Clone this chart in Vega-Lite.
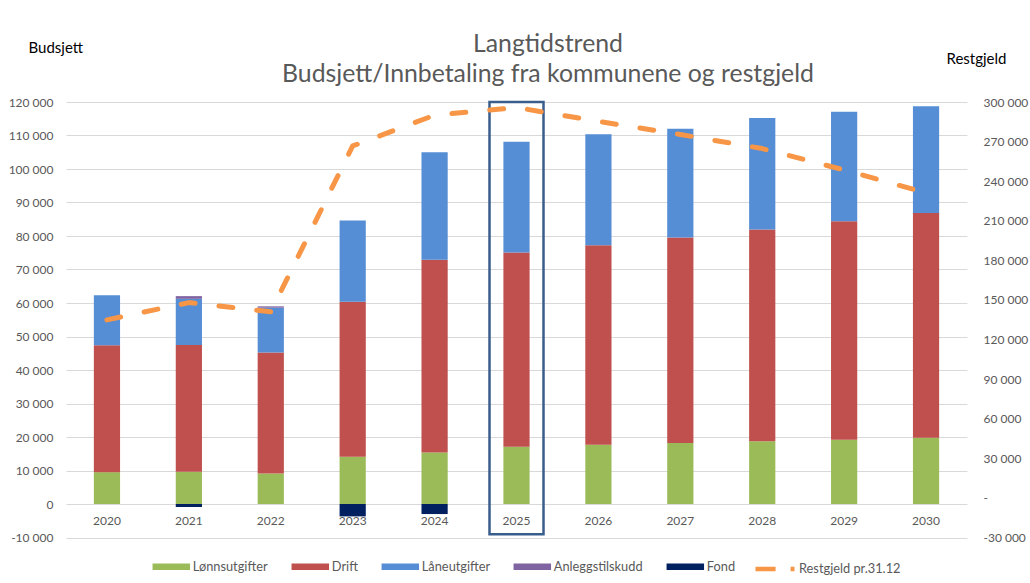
{
  "$schema": "https://vega.github.io/schema/vega-lite/v6.json",
  "width": 901,
  "height": 435.5,
  "autosize": "none",
  "padding": {"left": 66, "top": 102, "right": 63, "bottom": 45.5},
  "background": "white",
  "config": {
    "locale": {"number": {"decimal": ",", "thousands": " ", "grouping": [3], "currency": ["", ""], "minus": "-"}},
    "font": "Lato",
    "view": {"stroke": null},
    "axis": {"labelFont": "Lato", "labelFontSize": 12, "labelColor": "#595959", "domain": false, "ticks": false, "gridColor": "#d9d9d9", "gridWidth": 1, "labelOverlap": false}
  },
  "title": {
    "text": ["Langtidstrend", "Budsjett/Innbetaling fra kommunene og restgjeld"],
    "fontSize": 24.8, "fontWeight": "normal", "color": "#595959", "font": "Lato",
    "anchor": "middle", "frame": "group", "dx": 31.5, "offset": 20, "dy": 67, "lineHeight": 30
  },
  "datasets": {
    "budsjett": [
      {"år": "2020", "post": "Lønnsutgifter", "verdi": 9500},
      {"år": "2020", "post": "Drift", "verdi": 37900},
      {"år": "2020", "post": "Låneutgifter", "verdi": 14900},
      {"år": "2021", "post": "Lønnsutgifter", "verdi": 9600},
      {"år": "2021", "post": "Drift", "verdi": 37850},
      {"år": "2021", "post": "Låneutgifter", "verdi": 13800},
      {"år": "2021", "post": "Anleggstilskudd", "verdi": 800},
      {"år": "2021", "post": "Fond", "verdi": -900},
      {"år": "2022", "post": "Lønnsutgifter", "verdi": 9100},
      {"år": "2022", "post": "Drift", "verdi": 36100},
      {"år": "2022", "post": "Låneutgifter", "verdi": 13400},
      {"år": "2022", "post": "Anleggstilskudd", "verdi": 400},
      {"år": "2023", "post": "Lønnsutgifter", "verdi": 14100},
      {"år": "2023", "post": "Drift", "verdi": 46300},
      {"år": "2023", "post": "Låneutgifter", "verdi": 24200},
      {"år": "2023", "post": "Fond", "verdi": -3700},
      {"år": "2024", "post": "Lønnsutgifter", "verdi": 15400},
      {"år": "2024", "post": "Drift", "verdi": 57500},
      {"år": "2024", "post": "Låneutgifter", "verdi": 32100},
      {"år": "2024", "post": "Fond", "verdi": -3000},
      {"år": "2025", "post": "Lønnsutgifter", "verdi": 17100},
      {"år": "2025", "post": "Drift", "verdi": 57950},
      {"år": "2025", "post": "Låneutgifter", "verdi": 33050},
      {"år": "2026", "post": "Lønnsutgifter", "verdi": 17700},
      {"år": "2026", "post": "Drift", "verdi": 59550},
      {"år": "2026", "post": "Låneutgifter", "verdi": 33150},
      {"år": "2027", "post": "Lønnsutgifter", "verdi": 18200},
      {"år": "2027", "post": "Drift", "verdi": 61350},
      {"år": "2027", "post": "Låneutgifter", "verdi": 32450},
      {"år": "2028", "post": "Lønnsutgifter", "verdi": 18700},
      {"år": "2028", "post": "Drift", "verdi": 63250},
      {"år": "2028", "post": "Låneutgifter", "verdi": 33300},
      {"år": "2029", "post": "Lønnsutgifter", "verdi": 19200},
      {"år": "2029", "post": "Drift", "verdi": 65200},
      {"år": "2029", "post": "Låneutgifter", "verdi": 32700},
      {"år": "2030", "post": "Lønnsutgifter", "verdi": 19800},
      {"år": "2030", "post": "Drift", "verdi": 67100},
      {"år": "2030", "post": "Låneutgifter", "verdi": 31800}
    ],
    "restgjeld": [
      {"år": "2020", "restgjeld": 134900},
      {"år": "2021", "restgjeld": 148000},
      {"år": "2022", "restgjeld": 141000},
      {"år": "2023", "restgjeld": 266700},
      {"år": "2024", "restgjeld": 290000},
      {"år": "2025", "restgjeld": 295800},
      {"år": "2026", "restgjeld": 285300},
      {"år": "2027", "restgjeld": 275400},
      {"år": "2028", "restgjeld": 264700},
      {"år": "2029", "restgjeld": 248500},
      {"år": "2030", "restgjeld": 231100}
    ],
    "markering": [
      {"år": "2025", "topp": 120000, "bunn": -9000}
    ]
  },
  "layer": [
    {
      "layer": [
        {
          "data": {"name": "budsjett"},
          "transform": [
            {"calculate": "indexof(['Lønnsutgifter', 'Drift', 'Låneutgifter', 'Anleggstilskudd', 'Fond'], datum.post)", "as": "rekkefølge"}
          ],
          "mark": {"type": "bar"},
          "encoding": {
            "x": {
              "field": "år", "type": "ordinal",
              "scale": {"paddingInner": 0.68, "paddingOuter": 0.34},
              "axis": {"title": null, "labelAngle": 0, "offset": -33.5, "labelPadding": 11, "grid": false}
            },
            "y": {
              "field": "verdi", "type": "quantitative", "stack": "zero",
              "scale": {"domain": [-10000, 120000], "nice": false, "zero": false},
              "axis": {
                "values": [-10000, 0, 10000, 20000, 30000, 40000, 50000, 60000, 70000, 80000, 90000, 100000, 110000, 120000],
                "format": ",d", "labelPadding": 13, "grid": true, "labelOverlap": false, "labelFlush": false,
                "title": "Budsjett", "titleAngle": 0, "titleAlign": "left", "titleBaseline": "middle",
                "titleX": -38, "titleY": -55, "titleFontSize": 15, "titleFontWeight": "normal", "titleColor": "#000000", "titleFont": "Lato"
              }
            },
            "order": {"field": "rekkefølge", "type": "quantitative", "sort": "ascending"},
            "color": {
              "field": "post", "type": "nominal",
              "sort": ["Lønnsutgifter", "Drift", "Låneutgifter", "Anleggstilskudd", "Fond"],
              "scale": {
                "domain": ["Lønnsutgifter", "Drift", "Låneutgifter", "Anleggstilskudd", "Fond"],
                "range": ["#9bbb59", "#c0504d", "#558ed5", "#8064a2", "#002060"]
              },
              "legend": {
                "title": null, "orient": "none", "direction": "horizontal", "columns": 5,
                "legendX": 86.3, "legendY": 445.75,
                "symbolType": "M-1,-0.173L1,-0.173L1,0.173L-1,0.173Z", "symbolSize": 1406,
                "symbolStrokeWidth": 0, "symbolOpacity": 1,
                "labelFontSize": 12.8, "labelColor": "#595959", "labelFont": "Lato",
                "labelOffset": 2.5, "columnPadding": 23
              }
            }
          }
        },
        {
          "data": {"name": "markering"},
          "mark": {"type": "bar", "width": 54, "fill": "transparent", "stroke": "#3a5e8c", "strokeWidth": 2.5},
          "encoding": {
            "x": {"field": "år", "type": "ordinal"},
            "y": {
              "field": "topp", "type": "quantitative",
              "axis": {
                "values": [-10000, 0, 10000, 20000, 30000, 40000, 50000, 60000, 70000, 80000, 90000, 100000, 110000, 120000],
                "format": ",d", "labelPadding": 13, "grid": true, "labelOverlap": false, "labelFlush": false,
                "title": "Budsjett", "titleAngle": 0, "titleAlign": "left", "titleBaseline": "middle",
                "titleX": -38, "titleY": -55, "titleFontSize": 15, "titleFontWeight": "normal", "titleColor": "#000000", "titleFont": "Lato"
              }
            },
            "y2": {"field": "bunn"}
          }
        }
      ]
    },
    {
      "data": {"name": "restgjeld"},
      "mark": {"type": "line", "strokeWidth": 5, "strokeDash": [14, 24], "strokeCap": "round", "strokeJoin": "round"},
      "encoding": {
        "x": {"field": "år", "type": "ordinal", "bandPosition": 0.5},
        "y": {
          "field": "restgjeld", "type": "quantitative",
          "scale": {"domain": [-30000, 300000], "nice": false, "zero": false},
          "axis": {
            "orient": "right", "grid": false, "labelOverlap": false,
            "values": [-30000, 0, 30000, 60000, 90000, 120000, 150000, 180000, 210000, 240000, 270000, 300000],
            "format": ",d", "labelExpr": "datum.value == 0 ? '-' : datum.label", "labelPadding": 16,
            "title": "Restgjeld", "titleAngle": 0, "titleAlign": "left", "titleBaseline": "middle",
            "titleX": -21, "titleY": -44, "titleFontSize": 15, "titleFontWeight": "normal", "titleColor": "#000000", "titleFont": "Lato"
          }
        },
        "stroke": {
          "datum": "Restgjeld pr.31.12", "type": "nominal",
          "scale": {"range": ["#f79646"]},
          "legend": {
            "title": null, "orient": "none", "direction": "horizontal",
            "legendX": 687, "legendY": 445,
            "symbolType": "M-1,0L0.03,0M0.8,0L1,0", "symbolSize": 1521,
            "symbolStrokeWidth": 4.5, "symbolFillColor": "transparent",
            "labelFontSize": 12.8, "labelColor": "#595959", "labelFont": "Lato", "labelOffset": 2
          }
        }
      }
    }
  ],
  "resolve": {"scale": {"y": "independent"}}
}
